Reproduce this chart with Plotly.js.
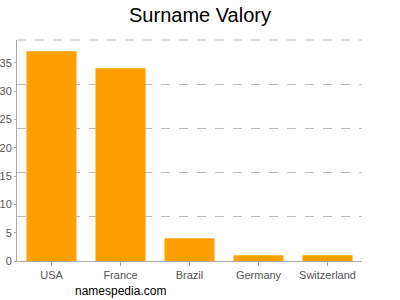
<!DOCTYPE html>
<html>
<head>
<meta charset="utf-8">
<script src="https://cdn.plot.ly/plotly-3.0.1.min.js"></script>
<style>html,body{margin:0;padding:0;background:#fff;}#chart{width:400px;height:300px;}</style>
</head>
<body>
<div id="chart"></div>
<script>
const countries = ["USA", "France", "Brazil", "Germany", "Switzerland"];
const counts = [37, 34, 4, 1, 1];
const yTop = 39;

const data = [
  {
    type: "bar",
    x: countries,
    y: counts,
    marker: { color: "#ffa000", line: { width: 0 } },
    hoverinfo: "x+y"
  },
  {
    type: "scatter",
    x: countries,
    y: counts,
    yaxis: "y2",
    mode: "none",
    showlegend: false,
    hoverinfo: "skip"
  }
];

const layout = {
  width: 400,
  height: 300,
  margin: { l: 17, r: 38, t: 40, b: 39 },
  paper_bgcolor: "#fff",
  plot_bgcolor: "#fff",
  showlegend: false,
  bargap: 0.275,
  font: { family: "Liberation Sans, Arial, sans-serif", color: "#555" },
  title: {
    text: "Surname Valory",
    font: { size: 20, color: "#000", family: "Liberation Sans, Arial, sans-serif" },
    x: 0.5, xanchor: "center",
    y: 0.95, yref: "container", yanchor: "middle"
  },
  xaxis: {
    showline: true, linecolor: "#aaa", linewidth: 1,
    ticks: "outside", ticklen: 4, tickcolor: "#aaa",
    tickfont: { size: 11, color: "#555" },
    showgrid: false, zeroline: false, fixedrange: true
  },
  yaxis: {
    range: [0, yTop], dtick: 5, tick0: 0,
    showline: true, linecolor: "#aaa", linewidth: 1,
    ticks: "outside", ticklen: 2, tickcolor: "#aaa",
    tickfont: { size: 11, color: "#555" },
    showgrid: false, zeroline: false, fixedrange: true
  },
  yaxis2: {
    overlaying: "y", side: "right",
    range: [0, yTop], dtick: yTop / 5, tick0: 0,
    showticklabels: false, ticks: "",
    showgrid: true, gridcolor: "#bbb", griddash: "dash", gridwidth: 1,
    showline: false, zeroline: false, fixedrange: true
  },
  shapes: [
    {
      type: "line", xref: "paper", yref: "paper",
      x0: 0, x1: 1, y0: 1, y1: 1,
      line: { color: "#bbb", width: 1, dash: "dash" },
      layer: "below"
    }
  ],
  annotations: [
    {
      text: "namespedia.com",
      xref: "paper", yref: "paper",
      x: 0.2986, y: -0.136,
      xanchor: "center", yanchor: "middle",
      showarrow: false,
      font: { size: 12, color: "#000", family: "Liberation Sans, Arial, sans-serif" }
    }
  ]
};

Plotly.newPlot("chart", data, layout, { displayModeBar: false, staticPlot: true });
</script>
</body>
</html>
